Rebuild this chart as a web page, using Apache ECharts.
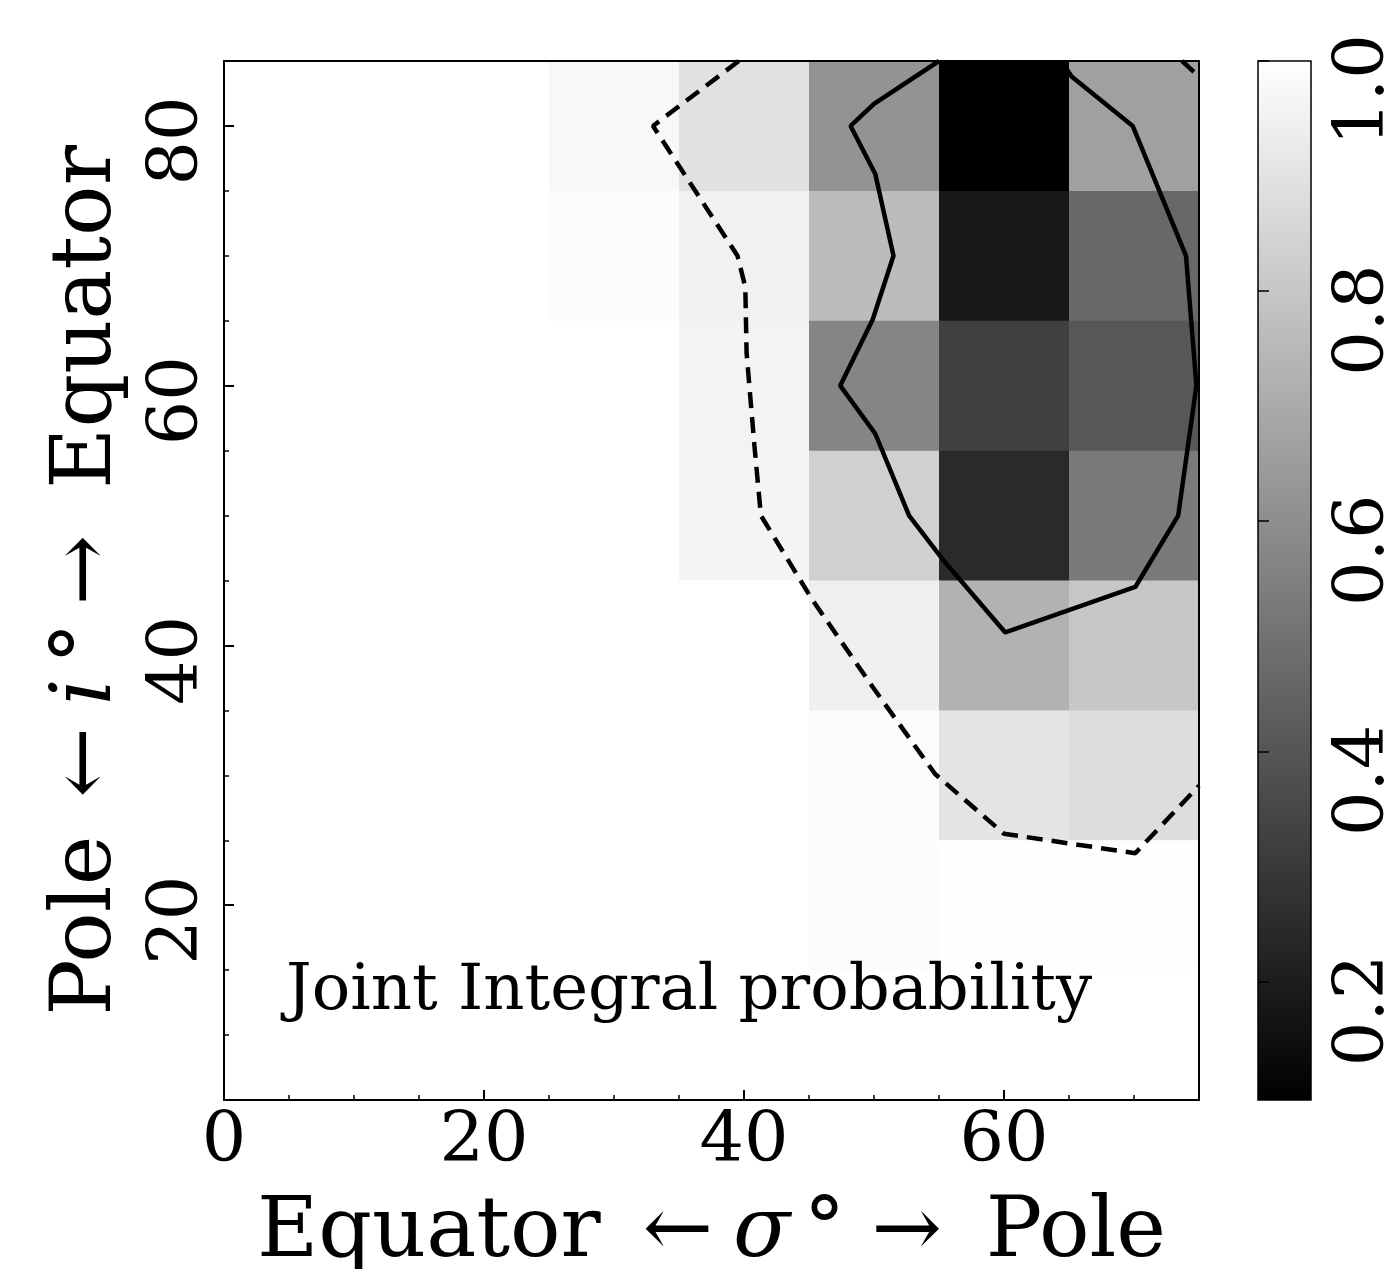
<!DOCTYPE html>
<html>
<head>
<meta charset="utf-8">
<script src="https://cdn.jsdelivr.net/npm/echarts@6/dist/echarts.min.js"></script>
<style>
  html, body { margin: 0; padding: 0; background: #fff; }
  #chart { width: 1400px; height: 1269px; }
</style>
</head>
<body>
<div id="chart"></div>
<script>
// cell centres (degrees)
var sigmaCenters = [30, 40, 50, 60, 70];
var incCenters = [80, 70, 60, 50, 40, 30, 20, 10];
// joint integral probability, one row per inclination, columns follow sigmaCenters
var probRows = [
  [0.976, 0.894, 0.617, 0.097, 0.664],
  [0.989, 0.950, 0.763, 0.178, 0.465],
  [1.000, 0.957, 0.568, 0.324, 0.405],
  [1.000, 0.965, 0.834, 0.246, 0.529],
  [1.000, 1.000, 0.943, 0.727, 0.801],
  [1.000, 1.000, 0.986, 0.904, 0.880],
  [1.000, 1.000, 0.988, 0.995, 0.998],
  [1.000, 1.000, 1.000, 1.000, 1.000]
];
// contour lines [sigma, i]
var contourDashed = [[39.6, 85], [33.0, 80], [39.5, 70], [40.1, 67.6], [40.2, 62.5], [40.8, 55.4],
  [41.3, 50], [45.2, 43.6], [49.9, 36.8], [54.7, 30.1], [60.0, 25.5], [70.1, 24.0], [75, 29.2]];
var contourDashedCorner = [[73.7, 85], [75, 83.8]];
var contourSolid = [[55.0, 85], [50.0, 81.7], [48.2, 80], [50.1, 76.3], [51.5, 70], [49.9, 65.1],
  [47.4, 60], [50.1, 56.3], [52.7, 50], [55.3, 46.6], [60.1, 41.0], [70.1, 44.5], [73.4, 50],
  [74.8, 60], [74.0, 70], [69.9, 80], [65.2, 83.8], [64.4, 85]];
var yMajorTicks = [20, 40, 60, 80];
var yMinorTicks = [10, 15, 25, 30, 35, 45, 50, 55, 65, 70, 75];
var cbarTicks = [0.2, 0.4, 0.6, 0.8, 1.0];
var cMin = 0.097, cMax = 1.0;

var cells = [];
incCenters.forEach(function (y, r) {
  sigmaCenters.forEach(function (x, c) {
    cells.push([x, y, probRows[r][c]]);
  });
});
var halfW = (sigmaCenters[1] - sigmaCenters[0]) / 2;
var halfH = (incCenters[0] - incCenters[1]) / 2;

var FONT = 'DejaVu Serif';

function renderCell(params, api) {
  var x = api.value(0), y = api.value(1);
  var p0 = api.coord([x - halfW, y + halfH]);
  var p1 = api.coord([x + halfW, y - halfH]);
  return {
    type: 'rect',
    shape: { x: p0[0], y: p0[1], width: p1[0] - p0[0] + 0.5, height: p1[1] - p0[1] + 0.5 },
    style: { fill: api.visual('color') }
  };
}

function renderBar(params, api) {
  var p0 = api.coord([0, api.value(1)]);
  var p1 = api.coord([1, api.value(0)]);
  return {
    type: 'rect',
    shape: { x: p0[0], y: p0[1], width: p1[0] - p0[0], height: p1[1] - p0[1] },
    style: {
      fill: new echarts.graphic.LinearGradient(0, 0, 0, 1, [
        { offset: 0, color: '#ffffff' }, { offset: 1, color: '#000000' }
      ]),
      stroke: '#000', lineWidth: 1.5
    }
  };
}

var chart = echarts.init(document.getElementById('chart'));
var tickLabel = { fontFamily: FONT, fontSize: 70, color: '#000' };
var nameRich = {
  t: { fontFamily: FONT, fontSize: 84, color: '#000' },
  m: { fontFamily: FONT, fontSize: 84, fontStyle: 'italic', color: '#000' }
};

chart.setOption({
  animation: false,
  backgroundColor: '#fff',
  title: {
    text: 'Joint Integral probability',
    left: 281, top: 955,
    textStyle: { fontFamily: FONT, fontSize: 64, fontWeight: 'normal', color: '#000' }
  },
  grid: [
    { left: 224, top: 61, width: 975, height: 1039, outerBoundsMode: 'none', containLabel: false },
    { left: 1258, top: 61, width: 53, height: 1039, outerBoundsMode: 'none', containLabel: false }
  ],
  visualMap: {
    type: 'continuous', show: false, min: cMin, max: cMax,
    dimension: 2, seriesIndex: 0,
    inRange: { color: ['#000000', '#ffffff'] }
  },
  xAxis: [
    {
      type: 'value', gridIndex: 0, min: 0, max: 75, interval: 20, z: 5,
      name: '{t|Equator}{a|←}{m|σ}{d|°}{b|→}{t|Pole}',
      nameLocation: 'middle', nameGap: 92,
      nameTextStyle: {
        rich: Object.assign({
          a: { fontFamily: FONT, fontSize: 84, color: '#000', padding: [0, 20, 0, 42] },
          d: { fontFamily: FONT, fontSize: 84, color: '#000', padding: [0, 26, 0, 13] },
          b: { fontFamily: FONT, fontSize: 84, color: '#000', padding: [0, 44, 0, 0] }
        }, nameRich)
      },
      axisLine: { lineStyle: { color: '#000', width: 2 } },
      axisTick: { inside: true, length: 10, lineStyle: { color: '#000', width: 2 } },
      minorTick: { show: true, splitNumber: 4, length: 5, lineStyle: { color: '#000', width: 1.5 } },
      axisLabel: Object.assign({ margin: 8, showMaxLabel: false }, tickLabel),
      splitLine: { show: false }
    },
    {
      type: 'value', gridIndex: 0, position: 'top', min: 0, max: 75, z: 5,
      axisLine: { lineStyle: { color: '#000', width: 2 } },
      axisTick: { show: false }, axisLabel: { show: false }, splitLine: { show: false }
    },
    { type: 'value', gridIndex: 1, min: 0, max: 1, show: false }
  ],
  yAxis: [
    {
      type: 'value', gridIndex: 0, position: 'left', min: 5, max: 85, z: 5,
      name: '{t|Pole}{a|←}{m|i}{d|°}{b|→}{t|Equator}',
      nameLocation: 'middle', nameGap: 94, nameRotate: 90,
      nameTextStyle: {
        rich: Object.assign({
          a: { fontFamily: FONT, fontSize: 84, color: '#000', padding: [0, 22, 0, 38] },
          d: { fontFamily: FONT, fontSize: 84, color: '#000', padding: [0, 17, 0, 14] },
          b: { fontFamily: FONT, fontSize: 84, color: '#000', padding: [0, 46, 0, 0] }
        }, nameRich)
      },
      axisLine: { lineStyle: { color: '#000', width: 2 } },
      axisTick: { inside: true, length: 10, customValues: yMajorTicks, lineStyle: { color: '#000', width: 2 } },
      axisLabel: Object.assign({ margin: 10, rotate: 90, customValues: yMajorTicks, padding: [0, 30, 0, 0] }, tickLabel),
      splitLine: { show: false }
    },
    {
      type: 'value', gridIndex: 0, position: 'left', min: 5, max: 85, z: 5,
      axisLine: { show: false },
      axisTick: { inside: true, length: 5, customValues: yMinorTicks, lineStyle: { color: '#000', width: 1.5 } },
      axisLabel: { show: false }, splitLine: { show: false }
    },
    {
      type: 'value', gridIndex: 0, position: 'right', min: 5, max: 85, z: 5,
      axisLine: { lineStyle: { color: '#000', width: 2 } },
      axisTick: { show: false }, axisLabel: { show: false }, splitLine: { show: false }
    },
    {
      type: 'value', gridIndex: 1, position: 'right', min: cMin, max: cMax, z: 5,
      axisLine: { show: false },
      axisTick: { inside: false, length: 11, customValues: cbarTicks, lineStyle: { color: '#000', width: 1.5 } },
      axisLabel: Object.assign({
        margin: 19, rotate: 90, customValues: cbarTicks, padding: [0, 58, 0, 0],
        formatter: function (v) { return v.toFixed(1); }
      }, tickLabel),
      splitLine: { show: false }
    }
  ],
  series: [
    {
      type: 'custom', xAxisIndex: 0, yAxisIndex: 0, clip: true,
      renderItem: renderCell, data: cells, z: 1
    },
    {
      type: 'line', xAxisIndex: 0, yAxisIndex: 0, data: contourDashed, symbol: 'none',
      clip: true, z: 3, lineStyle: { color: '#000', width: 4.5, type: [16, 9] }
    },
    {
      type: 'line', xAxisIndex: 0, yAxisIndex: 0, data: contourDashedCorner, symbol: 'none',
      clip: true, z: 3, lineStyle: { color: '#000', width: 4.5, type: [16, 9] }
    },
    {
      type: 'line', xAxisIndex: 0, yAxisIndex: 0, data: contourSolid, symbol: 'none',
      clip: true, z: 3, lineStyle: { color: '#000', width: 4.5 }
    },
    {
      type: 'custom', xAxisIndex: 2, yAxisIndex: 3, clip: false,
      renderItem: renderBar, data: [[cMin, cMax]], z: 1
    }
  ]
});
</script>
</body>
</html>
